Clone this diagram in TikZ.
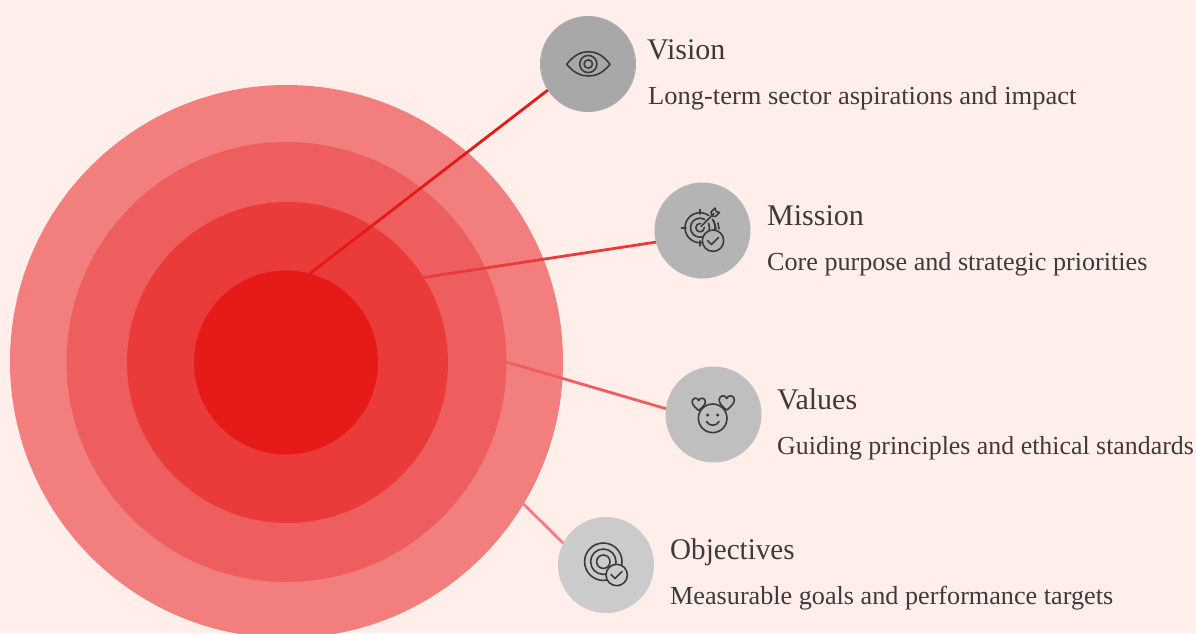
\documentclass[tikz,border=0pt]{standalone}
\usepackage{fontspec}
\setmainfont{Liberation Serif}
\definecolor{bgc}{HTML}{FFEEE9}
\definecolor{ringa}{HTML}{F37E7E}
\definecolor{ringb}{HTML}{EF5E5E}
\definecolor{ringc}{HTML}{EB3A3A}
\definecolor{ringd}{HTML}{E61A17}
\definecolor{grya}{HTML}{A8A8A8}
\definecolor{gryb}{HTML}{B4B4B4}
\definecolor{gryc}{HTML}{BFBFBF}
\definecolor{gryd}{HTML}{CBCBCB}
\definecolor{ink}{HTML}{3F3A3A}
\newcommand{\stretched}[2]{{\addfontfeature{FakeStretch=#1}#2}}
\tikzset{
  disc/.style={circle,inner sep=0pt,outer sep=0pt,draw=none},
  iconbg/.style={disc,minimum size=96pt},
  link/.style={line width=2.8pt},
  ttl/.style={anchor=base west,inner sep=0pt,text=ink,font=\fontsize{30}{30}\selectfont},
  dsc/.style={anchor=base west,inner sep=0pt,text=ink,font=\fontsize{26}{26}\selectfont},
  glyph/.style={draw=ink,line width=1.6pt,line cap=round,line join=round},
}
\begin{document}
\begin{tikzpicture}[x=1pt,y=-1pt]
\useasboundingbox (0,0) rectangle (1196,633);
\clip (0,0) rectangle (1196,633);
\fill[bgc] (0,0) rectangle (1196,633);
\node[disc,fill=ringa,minimum size=553pt] (outer) at (286.5,361.5) {};
\node[disc,fill=ringb,minimum size=440pt] (second) at (286.5,362) {};
\node[disc,fill=ringc,minimum size=321pt] (third) at (287.5,362.5) {};
\node[disc,fill=ringd,minimum size=184pt] (core) at (286,362.5) {};
\node[iconbg,fill=grya] (vision) at (588,64) {};
\node[iconbg,fill=gryb] (mission) at (702.5,230.5) {};
\node[iconbg,fill=gryc] (values) at (713.5,414.5) {};
\node[iconbg,fill=gryd] (objectives) at (606,565) {};
\draw[link,color=ringd] (core.75.5) -- (vision.213.7);
\draw[link,color=ringc] (third.32.5) -- (mission.194.7);
\draw[link,color=ringb] (second.-0.3) -- (values.173.5);
\draw[link,color=ringa] (outer.-31.8) -- (objectives.153);
% eye
\draw[glyph] (566.7,64.3) .. controls (574,55) and (581,51.7) .. (588.5,51.7) .. controls (596,51.7) and (603,55) .. (610,64.3) .. controls (603,73) and (596,76) .. (588.5,76) .. controls (581,76) and (574,73) .. (566.7,64.3) -- cycle;
\draw[glyph] (588.3,64) circle[radius=8.6];
\draw[glyph] (588.3,64) circle[radius=4.2];
% target with check
\draw[glyph] (700,227.7) circle[radius=15];
\draw[glyph] (700,227.7) circle[radius=9.5];
\draw[glyph] (700,227.7) circle[radius=4.2];
\draw[glyph] (700,209.5) -- (700,214);
\draw[glyph] (681.5,227.7) -- (686,227.7);
\draw[glyph] (700,241) -- (700,246);
\draw[gryb,line width=4pt] (699,229) -- (714,214);
\draw[glyph] (701,226.5) -- (714,213.5);
\draw[glyph] (711,212) -- (715,208) -- (716,211.5) -- (719.5,212.5) -- (715.5,216.5) -- (712,216) -- cycle;
\draw[glyph] (714,221) -- (716,229) (718,223) -- (719,229);
\draw[glyph,fill=gryb] (713,240.7) circle[radius=10.7];
\draw[glyph] (707.5,240.5) -- (711.5,244.5) -- (718.5,237.5);
% face with hearts
\draw[glyph] (712.7,418.3) circle[radius=14.3];
\fill[ink] (707.7,415) circle[radius=1.7] (717.7,415) circle[radius=1.7];
\draw[glyph] (706.5,421.5) .. controls (709,426.5) and (716.5,426.5) .. (719,421.5);
\draw[glyph,fill=gryc] (698.7,410.5) .. controls (694,406.5) and (692,404) .. (692.2,401.5) .. controls (692.5,397.5) and (697.5,397) .. (698.7,400.5) .. controls (700,397) and (705,397.5) .. (705.3,401.5) .. controls (705.5,404) and (703.5,406.5) .. (698.7,410.5) -- cycle;
\draw[glyph,fill=gryc] (726.7,410) .. controls (721,405.5) and (719,402.5) .. (719.2,399.5) .. controls (719.5,395) and (725.5,394.5) .. (726.7,398.5) .. controls (728,394.5) and (734,395) .. (734.3,399.5) .. controls (734.5,402.5) and (732.5,405.5) .. (726.7,410) -- cycle;
% rings with check
\draw[glyph] (603.3,561.7) circle[radius=18.7];
\draw[glyph] (603.3,561.7) circle[radius=12.7];
\draw[glyph] (603.3,561.7) circle[radius=6.7];
\draw[glyph,fill=gryd] (616.7,575) circle[radius=10.7];
\draw[glyph] (611,574.5) -- (615,578.5) -- (622,571.5);
% text
\node[ttl] (t1) at (647,59) {Vision};
\node[dsc] (d1) at (648,104) {\stretched{1.019}{Long-term sector aspirations and impact}};
\node[ttl] (t2) at (767,225) {Mission};
\node[dsc] (d2) at (767,270) {\stretched{1.005}{Core purpose and strategic priorities}};
\node[ttl] (t3) at (777,409) {Values};
\node[dsc] (d3) at (777,454) {\stretched{0.995}{Guiding principles and ethical standards}};
\node[ttl] (t4) at (670,559) {\stretched{0.97}{Objectives}};
\node[dsc] (d4) at (670,604) {\stretched{1.007}{Measurable goals and performance targets}};
\end{tikzpicture}
\end{document}
